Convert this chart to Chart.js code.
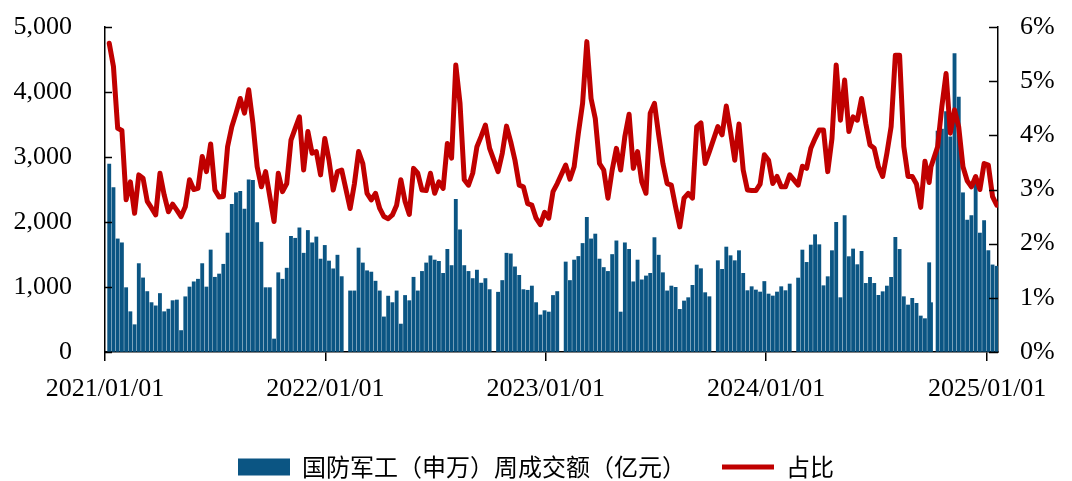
<!DOCTYPE html>
<html>
<head>
<meta charset="utf-8">
<script src="https://cdn.jsdelivr.net/npm/chart.js@4.4.1/dist/chart.umd.min.js"></script>
<style>
  html, body { margin: 0; padding: 0; background: #fff; }
</style>
</head>
<body>
<canvas id="c" width="1072" height="481"></canvas>
<script>
// weekly data, Friday dates from 2021-01-08, plus the single trading day 2024-09-30
const firstWeek = '2021-01-08';
const weekCount = 211;
const extraDay = '2024-09-30';

// 国防军工（申万）周成交额（亿元）
const amounts = [
  2890, 2530, 1740, 1680, 990, 620, 420, 1360, 1140, 930,
  760, 710, 900, 620, 660, 790, 800, 330, 850, 1000,
  1080, 1120, 1360, 1000, 1570, 1150, 1200, 1350, 1830, 2270,
  2450, 2470, 2200, 2650, 2640, 1990, 1690, 990, 990, 200,
  1220, 1120, 1290, 1780, 1750, 1910, 1520, 1870, 1680, 1770,
  1430, 1640, 1400, 1280, 1490, 1160, null, 940, 940, 1600,
  1370, 1250, 1230, 1090, 940, 540, 860, 760, 940, 430,
  870, 790, 1150, 940, 1240, 1370, 1480, 1415, 1395, 1210,
  1580, 1330, 2350, 1880, 1330, 1240, 1130, 1260, 1060, 1130,
  960, null, 920, 1100, 1520, 1510, 1310, 1180, 960, 950,
  1015, 760, 570, 636, 615, 870, 930, null, 1385, 1100,
  1415, 1470, 1670, 2070, 1740, 1815, 1430, 1300, 1240, 1500,
  1710, 615, 1680, 1580, 1080, 1415, 1110, 1170, 1210, 1760,
  1490, 1220, 940, 1015, 995, 656, 785, 836, 1026, 1338,
  1282, 913, 851, null, 1405, 1272, 1615, 1482, 1405, 1559,
  1210, 944, 1005, 954, 923, 1085, 892, 862, 923, 1005,
  944, 1046, null, 1138, 1569, 1379, 1646, 1805, 1651, 1020,
  1159, 1559, 1995, 836, 2097, 1467, 1585, 1344, 1549, 1056,
  1149, 1056, 872, 928, 1015, 1149, 1764, 1579, 851, 723,
  826, 749, 554, 513, 1374, 759, null, 3400, 3430, 3700,
  3310, 4590, 3920, 2450, 2030, 2100, 2600, 1830, 2020, 1560,
  1340, 1320
];

// 占比 (%)
const shares = [
  5.70, 5.27, 4.13, 4.09, 2.81, 3.14, 2.56, 3.27, 3.21, 2.78,
  2.66, 2.53, 3.30, 2.90, 2.59, 2.73, 2.62, 2.50, 2.68, 3.18,
  3.00, 3.02, 3.61, 3.33, 3.84, 2.99, 2.86, 2.87, 3.79, 4.16,
  4.41, 4.68, 4.41, 4.84, 4.22, 3.42, 3.05, 3.33, 2.87, 2.41,
  3.30, 2.96, 3.11, 3.91, 4.13, 4.34, 3.36, 4.07, 3.67, 3.70,
  3.27, 3.94, 3.54, 2.99, 3.33, 3.36, null, 2.65, 3.10, 3.70,
  3.48, 2.93, 2.81, 2.93, 2.65, 2.50, 2.46, 2.53, 2.71, 3.18,
  2.78, 2.54, 3.39, 3.30, 2.99, 2.98, 3.30, 2.93, 3.14, 3.02,
  3.85, 3.58, 5.30, 4.59, 3.18, 3.08, 3.30, 3.79, 3.98, 4.19,
  3.76, null, 3.33, 3.67, 4.17, 3.88, 3.54, 3.08, 3.05, 2.74,
  2.71, 2.47, 2.35, 2.58, 2.47, 2.96, 3.11, null, 3.45, 3.19,
  3.42, 4.04, 4.59, 5.73, 4.68, 4.31, 3.48, 3.36, 2.84, 3.36,
  3.76, 3.36, 3.98, 4.39, 3.39, 3.70, 3.14, 2.93, 4.41, 4.59,
  4.01, 3.48, 3.11, 3.08, 2.68, 2.31, 2.84, 2.93, 2.84, 4.16,
  4.23, 3.48, 3.70, null, 4.16, 4.01, 4.54, 4.07, 3.54, 4.21,
  3.36, 2.99, 2.98, 2.98, 3.10, 3.64, 3.54, 3.11, 3.24, 3.05,
  3.05, 3.27, null, 3.08, 3.43, 3.39, 3.76, 3.94, 4.10, 4.10,
  3.33, 3.94, 5.30, 4.28, 5.02, 4.07, 4.34, 4.28, 4.68, 4.22,
  3.82, 3.76, 3.42, 3.24, 3.67, 4.16, 5.48, 5.48, 3.79, 3.24,
  3.24, 3.10, 2.67, 3.52, 3.13, 3.42, null, 3.79, 4.53, 5.14,
  4.04, 4.47, 4.15, 3.42, 3.16, 3.05, 3.24, 3.00, 3.48, 3.45,
  2.87, 2.71
];

const tickLabels = ['2021/01/01', '2022/01/01', '2023/01/01', '2024/01/01', '2025/01/01'];

// 日期 -> 距 2021/01/01 的天数
const origin = Date.UTC(2021, 0, 1);
function dayOf(s) {
  const p = s.split(/[-\/]/).map(Number);
  return (Date.UTC(p[0], p[1] - 1, p[2]) - origin) / 86400000;
}

const days = [];
const d0 = dayOf(firstWeek);
for (let i = 0; i < weekCount; i++) days.push(d0 + 7 * i);
days.splice(days.indexOf(dayOf('2024-09-27')) + 1, 0, dayOf(extraDay));
const tickDays = tickLabels.map(dayOf);

const barData = days.map((d, i) => ({ x: d, y: amounts[i] }));
const lineData = days.map((d, i) => ({ x: d, y: shares[i] }));

const numFont = { family: "'Liberation Serif', 'Times New Roman', serif", size: 26 };
const cnFont = { family: "'Noto Sans CJK SC', sans-serif", size: 24 };

// 坐标轴内侧刻度线
const axisTicks = {
  id: 'axisTicks',
  afterDraw(chart) {
    const { ctx, chartArea: a, scales } = chart;
    ctx.save();
    ctx.strokeStyle = '#000';
    ctx.lineWidth = 1.5;
    scales.y.ticks.forEach(t => {
      const py = Math.round(scales.y.getPixelForValue(t.value)) + 0.5;
      ctx.beginPath(); ctx.moveTo(a.left, py); ctx.lineTo(a.left + 7, py); ctx.stroke();
    });
    scales.y1.ticks.forEach(t => {
      const py = Math.round(scales.y1.getPixelForValue(t.value)) + 0.5;
      ctx.beginPath(); ctx.moveTo(a.right, py); ctx.lineTo(a.right - 9, py); ctx.stroke();
    });
    ctx.restore();
  }
};

// 图例下移
const legendShift = {
  id: 'legendShift',
  afterLayout(chart) {
    chart.legend.top += 8;
    chart.legend.bottom += 8;
  }
};

new Chart(document.getElementById('c').getContext('2d'), {
  type: 'bar',
  data: {
    datasets: [{
      type: 'bar',
      label: '国防军工（申万）周成交额（亿元）',
      data: barData,
      backgroundColor: '#0b5583',
      borderWidth: 0,
      barThickness: 3.2,
      yAxisID: 'y',
      order: 2
    }, {
      type: 'line',
      label: '占比',
      data: lineData,
      borderColor: '#c00000',
      backgroundColor: '#c00000',
      borderWidth: 5,
      borderJoinStyle: 'round',
      borderCapStyle: 'round',
      pointRadius: 0,
      pointHoverRadius: 0,
      tension: 0,
      spanGaps: true,
      yAxisID: 'y1',
      order: 1
    }]
  },
  options: {
    responsive: false,
    animation: false,
    devicePixelRatio: 1,
    layout: { padding: { top: 27, left: 0, right: 0, bottom: 0 } },
    plugins: {
      tooltip: { enabled: false },
      legend: {
        position: 'bottom',
        labels: {
          usePointStyle: true,
          pointStyleWidth: 52,
          boxHeight: 17,
          padding: 36,
          color: '#000',
          font: cnFont,
          generateLabels: chart => chart.data.datasets.map((ds, i) => ({
            text: ds.label,
            fillStyle: ds.backgroundColor,
            strokeStyle: ds.backgroundColor,
            lineWidth: i === 0 ? 0 : 5,
            pointStyle: i === 0 ? 'rect' : 'line',
            datasetIndex: i,
            hidden: false,
            fontColor: '#000'
          }))
        }
      }
    },
    scales: {
      x: {
        type: 'linear',
        min: 0,
        max: 1479,
        offset: false,
        afterBuildTicks: s => { s.ticks = tickDays.map(v => ({ value: v })); },
        afterFit: s => { s.height = 59; },
        ticks: {
          autoSkip: false,
          maxRotation: 0,
          padding: 13,
          color: '#000',
          font: numFont,
          callback: (v, i) => tickLabels[i]
        },
        grid: { offset: false, drawOnChartArea: false, drawTicks: true, tickLength: 9, color: '#000', lineWidth: 1.5 },
        border: { color: '#000', width: 1.5 }
      },
      y: {
        position: 'left',
        min: 0,
        max: 5000,
        afterFit: s => { s.width = 105; },
        ticks: {
          stepSize: 1000,
          padding: 3,
          color: '#000',
          font: numFont,
          callback: v => v.toLocaleString('en-US')
        },
        grid: { drawOnChartArea: false, drawTicks: true, tickLength: 30, tickColor: 'rgba(0,0,0,0)' },
        border: { color: '#000', width: 1.5 }
      },
      y1: {
        position: 'right',
        min: 0,
        max: 6,
        afterFit: s => { s.width = 74; },
        ticks: {
          stepSize: 1,
          padding: 3,
          color: '#000',
          font: numFont,
          callback: v => v + '%'
        },
        grid: { drawOnChartArea: false, drawTicks: true, tickLength: 19, tickColor: 'rgba(0,0,0,0)' },
        border: { color: '#000', width: 1.5 }
      }
    }
  },
  plugins: [axisTicks, legendShift]
});
</script>
</body>
</html>
